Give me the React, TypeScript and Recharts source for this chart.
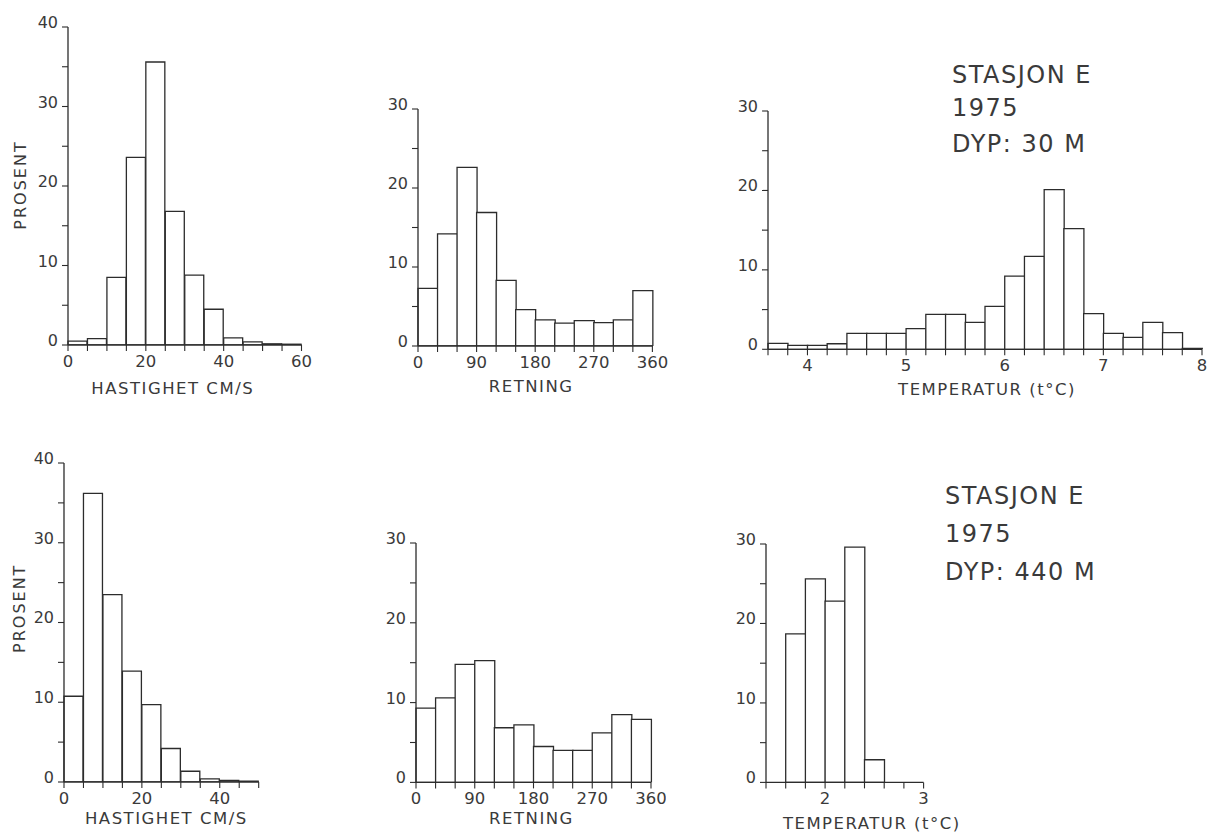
import React from 'react';
import { BarChart, Bar, XAxis, YAxis, Label } from 'recharts';

// ---------- DATA: top row (depth 30 m) ----------
const speedStartsTop = [0, 5, 10, 15, 20, 25, 30, 35, 40, 45, 50, 55];
const speedValuesTop = [0.5, 0.8, 8.5, 23.6, 35.6, 16.8, 8.8, 4.5, 0.9, 0.4, 0.15, 0.1];
const speedTicksTop = [0, 5, 10, 15, 20, 25, 30, 35, 40, 45, 50, 55, 60];
const speedLabelsTop = [0, 20, 40, 60];

const dirStarts = [0, 30, 60, 90, 120, 150, 180, 210, 240, 270, 300, 330];
const dirValuesTop = [7.3, 14.2, 22.6, 16.9, 8.3, 4.6, 3.3, 2.9, 3.2, 2.95, 3.3, 7.0];
const dirTicks = [0, 30, 60, 90, 120, 150, 180, 210, 240, 270, 300, 330, 360];
const dirLabels = [0, 90, 180, 270, 360];

const tempStartsTop = [3.6, 3.8, 4.0, 4.2, 4.4, 4.6, 4.8, 5.0, 5.2, 5.4, 5.6, 5.8, 6.0, 6.2, 6.4, 6.6, 6.8, 7.0, 7.2, 7.4, 7.6, 7.8];
const tempValuesTop = [0.75, 0.5, 0.5, 0.7, 2.0, 2.0, 2.0, 2.6, 4.4, 4.4, 3.4, 5.4, 9.2, 11.7, 20.1, 15.2, 4.5, 2.0, 1.5, 3.4, 2.1, 0.1];
const tempTicksTop = [3.6, 3.8, 4.0, 4.2, 4.4, 4.6, 4.8, 5.0, 5.2, 5.4, 5.6, 5.8, 6.0, 6.2, 6.4, 6.6, 6.8, 7.0, 7.2, 7.4, 7.6, 7.8, 8.0];
const tempLabelsTop = [4, 5, 6, 7, 8];

// ---------- DATA: bottom row (depth 440 m) ----------
const speedStartsBottom = [0, 5, 10, 15, 20, 25, 30, 35, 40, 45];
const speedValuesBottom = [10.75, 36.2, 23.5, 13.9, 9.7, 4.2, 1.35, 0.4, 0.2, 0.1];
const speedTicksBottom = [0, 5, 10, 15, 20, 25, 30, 35, 40, 45, 50];
const speedLabelsBottom = [0, 20, 40];

const dirValuesBottom = [9.3, 10.6, 14.8, 15.25, 6.85, 7.2, 4.5, 4.0, 4.0, 6.2, 8.5, 7.9];

const tempStartsBottom = [1.4, 1.6, 1.8, 2.0, 2.2, 2.4, 2.6, 2.8];
const tempValuesBottom = [0, 18.7, 25.6, 22.8, 29.6, 2.85, 0, 0];
const tempTicksBottom = [1.4, 1.6, 1.8, 2.0, 2.2, 2.4, 2.6, 2.8, 3.0];
const tempLabelsBottom = [2, 3];

const yTicks40 = [0, 5, 10, 15, 20, 25, 30, 35, 40];
const yTicks30 = [0, 5, 10, 15, 20, 25, 30];
const yLabelStep = 10;

const stationTop = ['STASJON E', '1975', 'DYP: 30 M'];
const stationBottom = ['STASJON E', '1975', 'DYP: 440 M'];

// ---------- STYLE ----------
const FONT = '"DejaVu Sans", "Liberation Sans", sans-serif';
const INK = '#2c2c2c';
const TEXT = '#3a3a3a';

const LM = 75;
const TM = 15;
const BH = 60;

type PanelProps = {
  left: number;
  top: number;
  plotW: number;
  plotH: number;
  rightM?: number;
  starts: number[];
  values: number[];
  xDomain: [number, number];
  xTicks: number[];
  xLabels: number[];
  yMax: number;
  yTicks: number[];
  xTitle: string;
  xTitleDx: number;
  xTitleDy: number;
  prosent?: { x: number; y: number };
};

const near = (arr: number[], v: number) => arr.some((a) => Math.abs(a - v) < 1e-6);

function Panel(p: PanelProps) {
  const RM = p.rightM ?? 15;
  const data = p.starts.map((s, i) => ({ start: s, value: p.values[i] }));
  const W = LM + p.plotW + RM;
  const H = TM + p.plotH + BH;
  const ox = p.left - LM;
  const oy = p.top - TM;

  const xTick = (props: any) => {
    const { x, y, payload } = props;
    if (!near(p.xLabels, payload.value)) return <g />;
    return (
      <text x={x} y={y} dy={14} textAnchor="middle" fontFamily={FONT} fontSize={16.5} fill={TEXT}>
        {String(Math.round(payload.value))}
      </text>
    );
  };

  const yTick = (props: any) => {
    const { x, y, payload } = props;
    if (Math.round(payload.value) % yLabelStep !== 0) return <g />;
    return (
      <text x={x} y={y} dy={1} textAnchor="end" fontFamily={FONT} fontSize={16} fill={TEXT}>
        {String(payload.value)}
      </text>
    );
  };

  const xTitle = () => (
    <text
      x={LM + p.plotW / 2 + p.xTitleDx}
      y={TM + p.plotH + p.xTitleDy}
      textAnchor="middle"
      dominantBaseline="central"
      fontFamily={FONT}
      fontSize={16.5}
      letterSpacing={1.5}
      fill={TEXT}
    >
      {p.xTitle}
    </text>
  );

  const yTitle = () => {
    if (!p.prosent) return <g />;
    const lx = p.prosent.x - ox;
    const ly = p.prosent.y - oy;
    return (
      <text
        x={lx}
        y={ly}
        transform={`rotate(-90, ${lx}, ${ly})`}
        textAnchor="middle"
        dominantBaseline="central"
        fontFamily={FONT}
        fontSize={16}
        letterSpacing={2}
        fill={TEXT}
      >
        PROSENT
      </text>
    );
  };

  return (
    <div style={{ position: 'absolute', left: ox, top: oy, width: W, height: H }}>
      <BarChart
        width={W}
        height={H}
        data={data}
        margin={{ top: TM, right: RM, left: 0, bottom: 0 }}
        barCategoryGap={0}
        barGap={0}
      >
        <XAxis
          xAxisId="scale"
          dataKey="start"
          type="number"
          domain={p.xDomain}
          ticks={p.xTicks}
          interval={0}
          allowDataOverflow
          height={BH}
          tickSize={6}
          tickMargin={2}
          axisLine={{ stroke: INK, strokeWidth: 1.3 }}
          tickLine={{ stroke: INK, strokeWidth: 1.1 }}
          tick={xTick}
        >
          <Label content={xTitle} />
        </XAxis>
        <XAxis xAxisId="bins" dataKey="start" type="category" hide height={0} />
        <YAxis
          type="number"
          domain={[0, p.yMax]}
          ticks={p.yTicks}
          interval={0}
          allowDataOverflow
          width={LM}
          tickSize={6}
          tickMargin={4}
          axisLine={{ stroke: INK, strokeWidth: 1.3 }}
          tickLine={{ stroke: INK, strokeWidth: 1.1 }}
          tick={yTick}
        >
          <Label content={yTitle} />
        </YAxis>
        <Bar
          xAxisId="bins"
          dataKey="value"
          fill="#ffffff"
          stroke={INK}
          strokeWidth={1.3}
          isAnimationActive={false}
        />
      </BarChart>
    </div>
  );
}

function StationText({ lines, x, baselines }: { lines: string[]; x: number; baselines: number[] }) {
  return (
    <>
      {lines.map((t, i) => (
        <text key={i} x={x} y={baselines[i]} fontFamily={FONT} fontSize={24} letterSpacing={1.5} fill={TEXT}>
          {t}
        </text>
      ))}
    </>
  );
}

export default function App() {
  return (
    <div style={{ position: 'absolute', left: 0, top: 0, width: 1211, height: 838, background: '#fff', overflow: 'hidden' }}>
      <Panel
        left={67.7}
        top={27}
        plotW={233.5}
        plotH={318}
        starts={speedStartsTop}
        values={speedValuesTop}
        xDomain={[0, 60]}
        xTicks={speedTicksTop}
        xLabels={speedLabelsTop}
        yMax={40}
        yTicks={yTicks40}
        xTitle="HASTIGHET CM/S"
        xTitleDx={-12}
        xTitleDy={43}
        prosent={{ x: 20, y: 185 }}
      />
      <Panel
        left={418.3}
        top={109}
        plotW={234.4}
        plotH={237}
        starts={dirStarts}
        values={dirValuesTop}
        xDomain={[0, 360]}
        xTicks={dirTicks}
        xLabels={dirLabels}
        yMax={30}
        yTicks={yTicks30}
        xTitle="RETNING"
        xTitleDx={-4}
        xTitleDy={41}
      />
      <Panel
        left={767.7}
        top={110.7}
        plotW={434}
        plotH={238.3}
        rightM={8}
        starts={tempStartsTop}
        values={tempValuesTop}
        xDomain={[3.6, 8.0]}
        xTicks={tempTicksTop}
        xLabels={tempLabelsTop}
        yMax={30}
        yTicks={yTicks30}
        xTitle="TEMPERATUR (t°C)"
        xTitleDx={2}
        xTitleDy={40}
      />
      <Panel
        left={64}
        top={462.7}
        plotW={194.7}
        plotH={319}
        starts={speedStartsBottom}
        values={speedValuesBottom}
        xDomain={[0, 50]}
        xTicks={speedTicksBottom}
        xLabels={speedLabelsBottom}
        yMax={40}
        yTicks={yTicks40}
        xTitle="HASTIGHET CM/S"
        xTitleDx={5}
        xTitleDy={37}
        prosent={{ x: 20, y: 608 }}
      />
      <Panel
        left={416}
        top={543.3}
        plotW={235}
        plotH={239.4}
        starts={dirStarts}
        values={dirValuesBottom}
        xDomain={[0, 360]}
        xTicks={dirTicks}
        xLabels={dirLabels}
        yMax={30}
        yTicks={yTicks30}
        xTitle="RETNING"
        xTitleDx={-2}
        xTitleDy={36}
      />
      <Panel
        left={765.7}
        top={544.3}
        plotW={157.6}
        plotH={238.4}
        rightM={90}
        starts={tempStartsBottom}
        values={tempValuesBottom}
        xDomain={[1.4, 3.0]}
        xTicks={tempTicksBottom}
        xLabels={tempLabelsBottom}
        yMax={30}
        yTicks={yTicks30}
        xTitle="TEMPERATUR (t°C)"
        xTitleDx={27}
        xTitleDy={41}
      />
      <svg width={1211} height={838} style={{ position: 'absolute', left: 0, top: 0, pointerEvents: 'none' }}>
        <StationText lines={stationTop} x={952} baselines={[83, 116, 152]} />
        <StationText lines={stationBottom} x={945} baselines={[504, 542, 580]} />
      </svg>
    </div>
  );
}
